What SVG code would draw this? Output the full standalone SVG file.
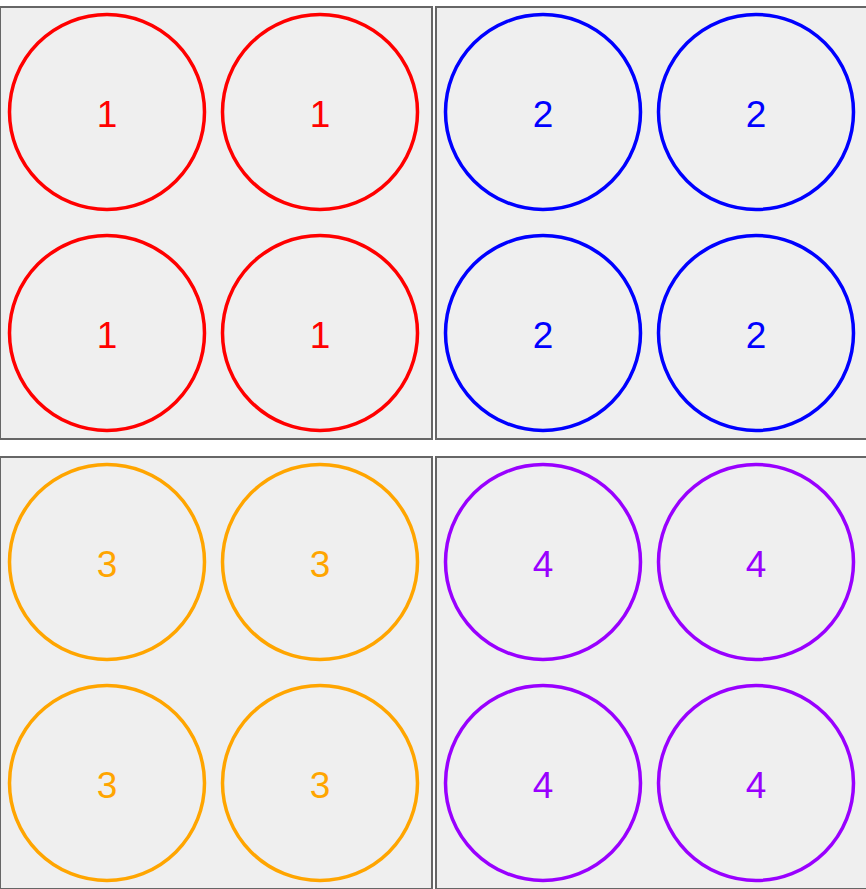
<svg xmlns="http://www.w3.org/2000/svg" width="866" height="889" viewBox="0 0 866 889">
<style>
.panel{fill:#efefef;stroke:#666;stroke-width:2}
.c{fill:none;stroke-width:3.5}
.t{font-family:"Liberation Sans",Arial,sans-serif;font-size:37px;text-anchor:middle}
.r{stroke:#ff0000}.rt{fill:#ff0000}
.b{stroke:#0000ff}.bt{fill:#0000ff}
.o{stroke:#ffa500}.ot{fill:#ffa500}
.p{stroke:#9900ff}.pt{fill:#9900ff}
</style>
<rect width="866" height="889" fill="#ffffff"/>
<g id="panel1">
<rect class="panel" x="0" y="7" width="432" height="432"/>
<g id="n1a"><circle class="c r" cx="107" cy="112" r="97.5"/><text class="t rt" x="107" y="127">1</text></g>
<g id="n1b"><circle class="c r" cx="320" cy="112" r="97.5"/><text class="t rt" x="320" y="127">1</text></g>
<g id="n1c"><circle class="c r" cx="107" cy="333" r="97.5"/><text class="t rt" x="107" y="348">1</text></g>
<g id="n1d"><circle class="c r" cx="320" cy="333" r="97.5"/><text class="t rt" x="320" y="348">1</text></g>
</g>
<g id="panel2">
<rect class="panel" x="436" y="7" width="432" height="432"/>
<g id="n2a"><circle class="c b" cx="543" cy="112" r="97.5"/><text class="t bt" x="543" y="127">2</text></g>
<g id="n2b"><circle class="c b" cx="756" cy="112" r="97.5"/><text class="t bt" x="756" y="127">2</text></g>
<g id="n2c"><circle class="c b" cx="543" cy="333" r="97.5"/><text class="t bt" x="543" y="348">2</text></g>
<g id="n2d"><circle class="c b" cx="756" cy="333" r="97.5"/><text class="t bt" x="756" y="348">2</text></g>
</g>
<g id="panel3">
<rect class="panel" x="0" y="457" width="432" height="432"/>
<g id="n3a"><circle class="c o" cx="107" cy="562" r="97.5"/><text class="t ot" x="107" y="577">3</text></g>
<g id="n3b"><circle class="c o" cx="320" cy="562" r="97.5"/><text class="t ot" x="320" y="577">3</text></g>
<g id="n3c"><circle class="c o" cx="107" cy="783" r="97.5"/><text class="t ot" x="107" y="798">3</text></g>
<g id="n3d"><circle class="c o" cx="320" cy="783" r="97.5"/><text class="t ot" x="320" y="798">3</text></g>
</g>
<g id="panel4">
<rect class="panel" x="436" y="457" width="432" height="432"/>
<g id="n4a"><circle class="c p" cx="543" cy="562" r="97.5"/><text class="t pt" x="543" y="577">4</text></g>
<g id="n4b"><circle class="c p" cx="756" cy="562" r="97.5"/><text class="t pt" x="756" y="577">4</text></g>
<g id="n4c"><circle class="c p" cx="543" cy="783" r="97.5"/><text class="t pt" x="543" y="798">4</text></g>
<g id="n4d"><circle class="c p" cx="756" cy="783" r="97.5"/><text class="t pt" x="756" y="798">4</text></g>
</g>
<g id="connectors"></g>
</svg>
